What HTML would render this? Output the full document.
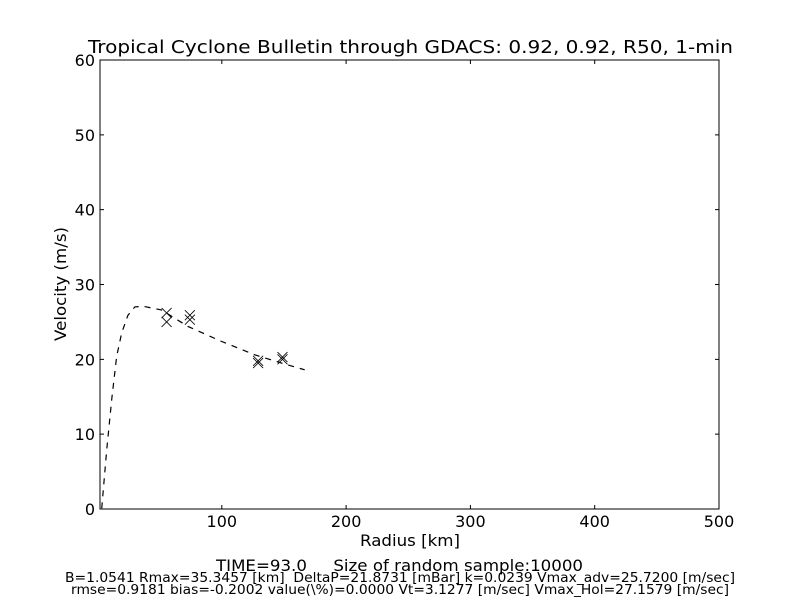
<!DOCTYPE html>
<html><head><meta charset="utf-8"><style>body{margin:0;background:#fff}svg{display:block;font-family:"DejaVu Sans","Liberation Sans",sans-serif}text{white-space:pre}</style></head>
<body>
<svg id="c" width="800" height="600"></svg>
<script>
const xTicks=[100,200,300,400,500];
const yTicks=[0,10,20,30,40,50,60];
const curveR=[3.4,7.4,11.4,15.4,19.4,24.5,30,36.5,51.5,72.7,99.7,126.5,148,166.7];
const curveV=[0.1,7.9,14.6,20.4,23.5,25.9,27.0,27.1,26.6,24.4,22.4,20.6,19.5,18.6];
const obsR=[55.6,55.6,74.3,74.3,129.2,129.2,148.8,148.8];
const obsV=[26.2,25.0,25.9,25.3,19.8,19.5,20.3,20.0];
const X0=100,X1=719,Y0=509,Y1=60,xmin=2,xmax=500,ymin=0,ymax=60;
const sx=v=>X0+(v-xmin)/(xmax-xmin)*(X1-X0);
const sy=v=>Y0-(v-ymin)/(ymax-ymin)*(Y0-Y1);
const svg=document.getElementById('c');const NS='http://www.w3.org/2000/svg';
function mk(t,a,txt){const e=document.createElementNS(NS,t);for(const k in a)e.setAttribute(k,a[k]);if(txt!==undefined)e.textContent=txt;svg.appendChild(e);return e;}
let e;
e=mk('rect',{x:X0,y:Y1,width:X1-X0,height:Y0-Y1,fill:'none',stroke:'#000','stroke-width':1});


xTicks.forEach(t=>{const x=sx(t);
e=mk('path',{d:`M${x} ${Y0}v-4M${x} ${Y1}v4`,stroke:'#000'});


e=mk('text',{x:x,y:Y0+18,'text-anchor':'middle','font-size':16},t);

});
yTicks.forEach(t=>{const y=sy(t);
e=mk('path',{d:`M${X0} ${y}h4M${X1} ${y}h-4`,stroke:'#000'});


e=mk('text',{x:X0-5,y:y+6,'text-anchor':'end','font-size':16},t);

});
e=mk('path',{d:curveR.map((r,i)=>(i?'L':'M')+sx(r)+' '+sy(curveV[i])).join(''),fill:'none',stroke:'#000','stroke-width':1.2,'stroke-dasharray':'6,6'});


obsR.forEach((r,i)=>{const x=sx(r),y=sy(obsV[i]);
e=mk('path',{d:`M${x-5} ${y-5}L${x+5} ${y+5}M${x-5} ${y+5}L${x+5} ${y-5}`,stroke:'#000','stroke-width':0.8});

});
e=mk('text',{x:88,y:53,'font-size':18,textLength:645,lengthAdjust:'spacingAndGlyphs'},'Tropical Cyclone Bulletin through GDACS: 0.92, 0.92, R50, 1-min');


e=mk('text',{x:360,y:546,'font-size':16,textLength:100,lengthAdjust:'spacingAndGlyphs'},'Radius [km]');


e=mk('text',{x:0,y:0,'font-size':16,textLength:114,lengthAdjust:'spacingAndGlyphs',transform:'translate(66 341) rotate(-90)'},'Velocity (m/s)');


e=mk('text',{x:216,y:571,'font-size':16,textLength:367,lengthAdjust:'spacingAndGlyphs'},'TIME=93.0     Size of random sample:10000');


e=mk('text',{x:65,y:582,'font-size':13,textLength:670,lengthAdjust:'spacingAndGlyphs'},'B=1.0541 Rmax=35.3457 [km]  DeltaP=21.8731 [mBar] k=0.0239 Vmax_adv=25.7200 [m/sec]');


e=mk('text',{x:71,y:594,'font-size':13,textLength:658,lengthAdjust:'spacingAndGlyphs'},'rmse=0.9181 bias=-0.2002 value(\\%)=0.0000 Vt=3.1277 [m/sec] Vmax_Hol=27.1579 [m/sec]');


</script>
</body></html>
